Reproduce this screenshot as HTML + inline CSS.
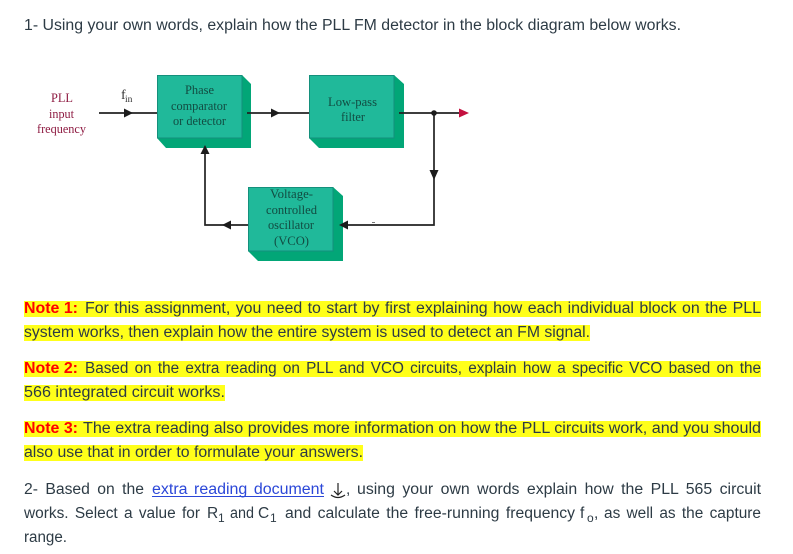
<!DOCTYPE html>
<html><head><meta charset="utf-8"><style>
html,body{margin:0;padding:0;background:#fff;width:793px;height:554px;overflow:hidden}
svg{display:block}
.b{font-family:"Liberation Sans",sans-serif;font-size:15.5px;fill:#2d3b45}
.n{font-family:"Liberation Sans",sans-serif;font-size:15.5px;font-weight:bold;fill:#f00}
.d{font-family:"Liberation Serif",serif;font-size:12.5px;fill:#124c42;text-anchor:start}
.r{font-family:"Liberation Serif",serif;font-size:12.5px;fill:#8e1b42}
.s{font-family:"Liberation Sans",sans-serif;font-size:12px;fill:#2d3b45}
.dg{filter:blur(.3px)}
</style></head><body>
<svg width="793" height="554" viewBox="0 0 793 554" xmlns="http://www.w3.org/2000/svg">
<text class="b" x="24" y="30" textLength="657" lengthAdjust="spacingAndGlyphs">1- Using your own words, explain how the PLL FM detector in the block diagram below works.</text>

<g class="dg">
<!-- Phase block -->
<polygon points="157,75 242,75 251,84 251,148 166,148 157,138" fill="#02a677"/>
<rect x="157.5" y="75.5" width="84.5" height="62.5" fill="#20b99a" stroke="#14907c"/>
<!-- LPF block -->
<polygon points="309,75 394,75 404,84 404,148 319,148 309,138" fill="#02a677"/>
<rect x="309.5" y="75.5" width="84.5" height="62.5" fill="#20b99a" stroke="#14907c"/>
<!-- VCO block -->
<polygon points="248,187 333,187 343,196 343,261 258,261 248,251" fill="#02a677"/>
<rect x="248.5" y="187.5" width="84.5" height="63.5" fill="#20b99a" stroke="#14907c"/>
<!-- lines -->
<g stroke="#222" stroke-width="1.7" fill="none">
<path d="M99 113H157"/><path d="M247 113H309"/><path d="M399 113H460"/>
<path d="M434 113V225H343"/><path d="M248 225H205V152"/>
</g>
<g fill="#1c1c1c">
<polygon points="124,108.5 124,117.5 133,113"/>
<polygon points="271,108.5 271,117.5 280,113"/>
<polygon points="429.5,170 438.5,170 434,180"/>
<polygon points="348,220.5 348,229.5 339,225"/>
<polygon points="231,220.5 231,229.5 222,225"/>
<polygon points="200.5,154 209.5,154 205,145"/>
<circle cx="434" cy="113" r="2.8"/>
</g>
<polygon points="459,108.5 459,117.5 469,113" fill="#c4103f"/>
<rect x="372" y="222" width="3" height="1" fill="#777"/>
<!-- diagram labels -->
<text class="r" x="51" y="102" textLength="22" lengthAdjust="spacingAndGlyphs">PLL</text>
<text class="r" x="49" y="118" textLength="25" lengthAdjust="spacingAndGlyphs">input</text>
<text class="r" x="37" y="133" textLength="49" lengthAdjust="spacingAndGlyphs">frequency</text>
<text class="d" x="121" y="99" style="font-size:14px;fill:#333">f</text><text class="d" x="125" y="102" style="font-size:9.5px;fill:#333">in</text>
<text class="d" x="185" y="94" textLength="29" lengthAdjust="spacingAndGlyphs">Phase</text>
<text class="d" x="171" y="110" textLength="56" lengthAdjust="spacingAndGlyphs">comparator</text>
<text class="d" x="173" y="125" textLength="53" lengthAdjust="spacingAndGlyphs">or detector</text>
<text class="d" x="328" y="106" textLength="49" lengthAdjust="spacingAndGlyphs">Low-pass</text>
<text class="d" x="341" y="121" textLength="24" lengthAdjust="spacingAndGlyphs">filter</text>
<text class="d" x="270" y="198" textLength="43" lengthAdjust="spacingAndGlyphs">Voltage-</text>
<text class="d" x="266" y="214" textLength="51" lengthAdjust="spacingAndGlyphs">controlled</text>
<text class="d" x="268" y="229" textLength="46" lengthAdjust="spacingAndGlyphs">oscillator</text>
<text class="d" x="274" y="245" textLength="35" lengthAdjust="spacingAndGlyphs">(VCO)</text>
</g>

<!-- highlights -->
<g fill="#ffff1a">
<rect x="24" y="301" width="737" height="16"/>
<rect x="24" y="325" width="566" height="16"/>
<rect x="24" y="361" width="737" height="16"/>
<rect x="24" y="385" width="201" height="16"/>
<rect x="24" y="421" width="737" height="16"/>
<rect x="24" y="445" width="339" height="16"/>
</g>

<text class="n" x="24" y="313" textLength="54" lengthAdjust="spacingAndGlyphs">Note 1:</text>
<text class="b" x="85" y="313" textLength="676" lengthAdjust="spacingAndGlyphs" word-spacing="1">For this assignment, you need to start by first explaining how each individual block on the PLL</text>
<text class="b" x="24" y="337" textLength="566" lengthAdjust="spacingAndGlyphs">system works, then explain how the entire system is used to detect an FM signal.</text>
<text class="n" x="24" y="373" textLength="54" lengthAdjust="spacingAndGlyphs">Note 2:</text>
<text class="b" x="85" y="373" textLength="676" lengthAdjust="spacingAndGlyphs" word-spacing="2">Based on the extra reading on PLL and VCO circuits, explain how a specific VCO based on the</text>
<text class="b" x="24" y="397" textLength="201" lengthAdjust="spacingAndGlyphs">566 integrated circuit works.</text>
<text class="n" x="24" y="433" textLength="54" lengthAdjust="spacingAndGlyphs">Note 3:</text>
<text class="b" x="83" y="433" textLength="678" lengthAdjust="spacingAndGlyphs">The extra reading also provides more information on how the PLL circuits work, and you should</text>
<text class="b" x="24" y="457" textLength="339" lengthAdjust="spacingAndGlyphs">also use that in order to formulate your answers.</text>

<text class="b" x="24" y="494" textLength="120" lengthAdjust="spacingAndGlyphs" word-spacing="3">2- Based on the</text>
<text class="b" x="152" y="494" textLength="172" lengthAdjust="spacingAndGlyphs" style="fill:#2b47d8" word-spacing="2">extra reading document</text>
<rect x="152" y="496" width="172" height="1" fill="#2b47d8"/>
<g stroke="#222" stroke-width="1.2" fill="none">
<path d="M338 483V495M334 491L338 495L342 491"/>
<path d="M331 495Q338 500 345 495"/>
</g>
<text class="b" x="346" y="494">,</text>
<text class="b" x="357" y="494" textLength="404" lengthAdjust="spacingAndGlyphs" word-spacing="3">using your own words explain how the PLL 565 circuit</text>

<text class="b" x="24" y="518" textLength="176" lengthAdjust="spacingAndGlyphs" word-spacing="2">works. Select a value for</text>
<text class="b" x="207" y="518">R</text><text class="s" x="218" y="522">1</text>
<text class="b" x="230" y="518" textLength="24" lengthAdjust="spacingAndGlyphs">and</text>
<text class="b" x="258" y="518">C</text><text class="s" x="270" y="522">1</text>
<text class="b" x="285" y="518" textLength="290" lengthAdjust="spacingAndGlyphs" word-spacing="2">and calculate the free-running frequency</text>
<text class="b" x="580" y="518">f</text><text class="s" x="587" y="522">o</text>
<text class="b" x="594" y="518">,</text>
<text class="b" x="604" y="518" textLength="157" lengthAdjust="spacingAndGlyphs" word-spacing="2">as well as the capture</text>
<text class="b" x="24" y="542" textLength="43" lengthAdjust="spacingAndGlyphs">range.</text>
</svg>
</body></html>
